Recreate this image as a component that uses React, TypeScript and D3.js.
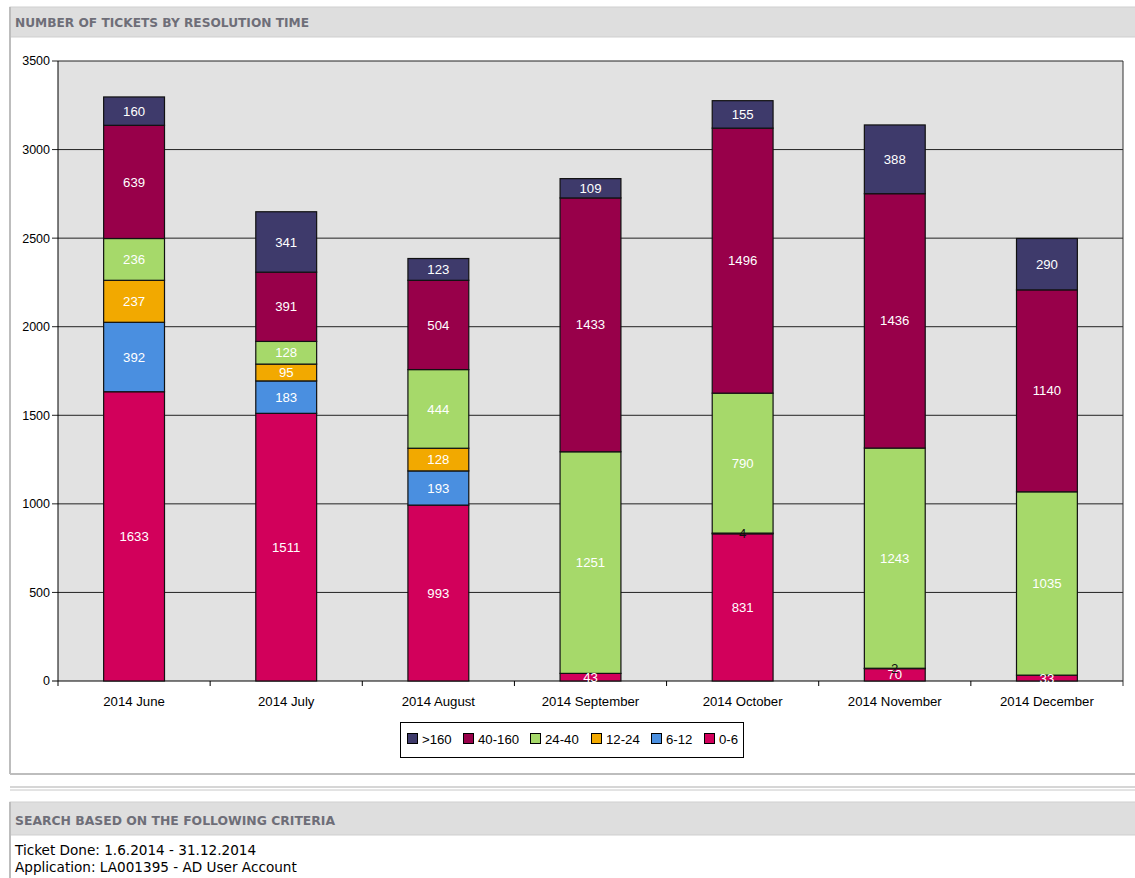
import React from "react";
import * as d3 from "d3";

const categories = ["2014 June", "2014 July", "2014 August", "2014 September", "2014 October", "2014 November", "2014 December"];
const seriesKeys = ["0-6", "6-12", "12-24", "24-40", "40-160", ">160"];
const v0_6 = [1633, 1511, 993, 43, 831, 70, 33];
const v6_12 = [392, 183, 193, 0, 4, 2, 0];
const v12_24 = [237, 95, 128, 0, 0, 0, 0];
const v24_40 = [236, 128, 444, 1251, 790, 1243, 1035];
const v40_160 = [639, 391, 504, 1433, 1496, 1436, 1140];
const vOver160 = [160, 341, 123, 109, 155, 388, 290];
const yTicks = [0, 500, 1000, 1500, 2000, 2500, 3000, 3500];
const legendOrder = [">160", "40-160", "24-40", "12-24", "6-12", "0-6"];

const colors: Record<string, string> = {
  "0-6": "#d2005b",
  "6-12": "#4a8fe0",
  "12-24": "#f2a900",
  "24-40": "#a6d96a",
  "40-160": "#98004a",
  ">160": "#3e3a6b",
};

const seriesValues = [v0_6, v6_12, v12_24, v24_40, v40_160, vOver160];

export default function App() {
  const W = 1135, H = 878;
  const plot = { left: 58, right: 1123, top: 61, bottom: 681 };
  const x = d3.scaleBand<string>().domain(categories).range([plot.left, plot.right]).paddingInner(0.6).paddingOuter(0.3);
  const band = d3.scaleBand<string>().domain(categories).range([plot.left, plot.right]);
  const y = d3.scaleLinear().domain([0, 3500]).range([plot.bottom, plot.top]);

  const table = categories.map((c, i) => {
    const row: any = { cat: c };
    seriesKeys.forEach((k, j) => (row[k] = seriesValues[j][i]));
    return row;
  });
  const stacked = d3.stack().keys(seriesKeys)(table);

  const font = "'Liberation Sans', Arial, sans-serif";
  const verd = "'DejaVu Sans', Verdana, sans-serif";
  const legendX = [407, 463, 530, 591, 651, 704];

  return (
    <svg width={W} height={H} style={{ position: "absolute", left: 0, top: 0 }} fontFamily={font}>
      <rect x={0} y={0} width={W} height={H} fill="#fff" />
      {/* chart panel */}
      <rect x={10} y={7} width={W} height={30} fill="#dedede" stroke="#cfcfcf" />
      <text x={15} y={27} fontFamily={verd} fontWeight="bold" fontSize={12.2} fill="#6e6e78">
        NUMBER OF TICKETS BY RESOLUTION TIME
      </text>
      <line x1={10} x2={10} y1={7} y2={774} stroke="#bdbdbd" strokeWidth={2} />
      <line x1={10} x2={W} y1={774} y2={774} stroke="#bdbdbd" strokeWidth={2} />
      <line x1={10} x2={W} y1={787} y2={787} stroke="#c8c8c8" strokeWidth={1.5} />
      <line x1={10} x2={W} y1={790} y2={790} stroke="#c8c8c8" strokeWidth={1} />

      {/* plot area */}
      <rect x={plot.left} y={plot.top} width={plot.right - plot.left} height={plot.bottom - plot.top} fill="#e2e2e2" />
      {yTicks.map((t) => (
        <g key={t}>
          <line x1={plot.left - 6} x2={plot.right} y1={y(t)} y2={y(t)} stroke={t === 0 ? "#000" : "#222"} strokeWidth={1} />
          <text x={plot.left - 8} y={y(t)} dy="0.35em" textAnchor="end" fontSize={12.5} fill="#000">{t}</text>
        </g>
      ))}
      <line x1={plot.left} x2={plot.left} y1={plot.top} y2={plot.bottom + 5} stroke="#000" />
      <line x1={plot.right} x2={plot.right} y1={plot.top} y2={plot.bottom + 5} stroke="#333" />
      {categories.map((c, i) => (
        <g key={c}>
          {i > 0 && <line x1={band(c)!} x2={band(c)!} y1={plot.bottom} y2={plot.bottom + 5} stroke="#000" />}
          <text x={band(c)! + band.bandwidth() / 2} y={plot.bottom + 25} textAnchor="middle" fontSize={13.2} fill="#000">{c}</text>
        </g>
      ))}

      {/* bars */}
      {stacked.map((s) => (
        <g key={s.key}>
          {s.map((d, i) => {
            const val = d[1] - d[0];
            if (val <= 0) return null;
            return (
              <rect key={i} x={x(categories[i])!} width={x.bandwidth()} y={y(d[1])} height={y(d[0]) - y(d[1])}
                fill={colors[s.key]} stroke="#111" strokeWidth={1.2} />
            );
          })}
        </g>
      ))}
      {stacked.map((s) => (
        <g key={"l" + s.key}>
          {s.map((d, i) => {
            const val = d[1] - d[0];
            if (val <= 0) return null;
            return (
              <text key={i} x={x(categories[i])! + x.bandwidth() / 2} y={(y(d[0]) + y(d[1])) / 2} dy="0.35em"
                textAnchor="middle" fontSize={13.2} fill={val < 10 ? "#111" : "#fff"}>{val}</text>
            );
          })}
        </g>
      ))}

      {/* legend */}
      <rect x={400.5} y={722.5} width={343} height={35} fill="#fff" stroke="#000" />
      {legendOrder.map((k, i) => (
        <g key={k}>
          <rect x={legendX[i] + 0.5} y={733.5} width={10} height={10} fill={colors[k]} stroke="#000" />
          <text x={legendX[i] + 15} y={739} dy="0.35em" fontSize={13.2} fill="#000">{k}</text>
        </g>
      ))}

      {/* criteria panel */}
      <rect x={10} y={802} width={W} height={33} fill="#dedede" stroke="#cfcfcf" />
      <text x={15} y={825} fontFamily={verd} fontWeight="bold" fontSize={12.4} fill="#6e6e78">
        SEARCH BASED ON THE FOLLOWING CRITERIA
      </text>
      <line x1={10} x2={10} y1={802} y2={H} stroke="#bdbdbd" strokeWidth={2} />
      <text x={15} y={855} fontFamily={verd} fontSize={13.6} fill="#000">Ticket Done: 1.6.2014 - 31.12.2014</text>
      <text x={15} y={872} fontFamily={verd} fontSize={13.6} fill="#000">Application: LA001395 - AD User Account</text>
    </svg>
  );
}
